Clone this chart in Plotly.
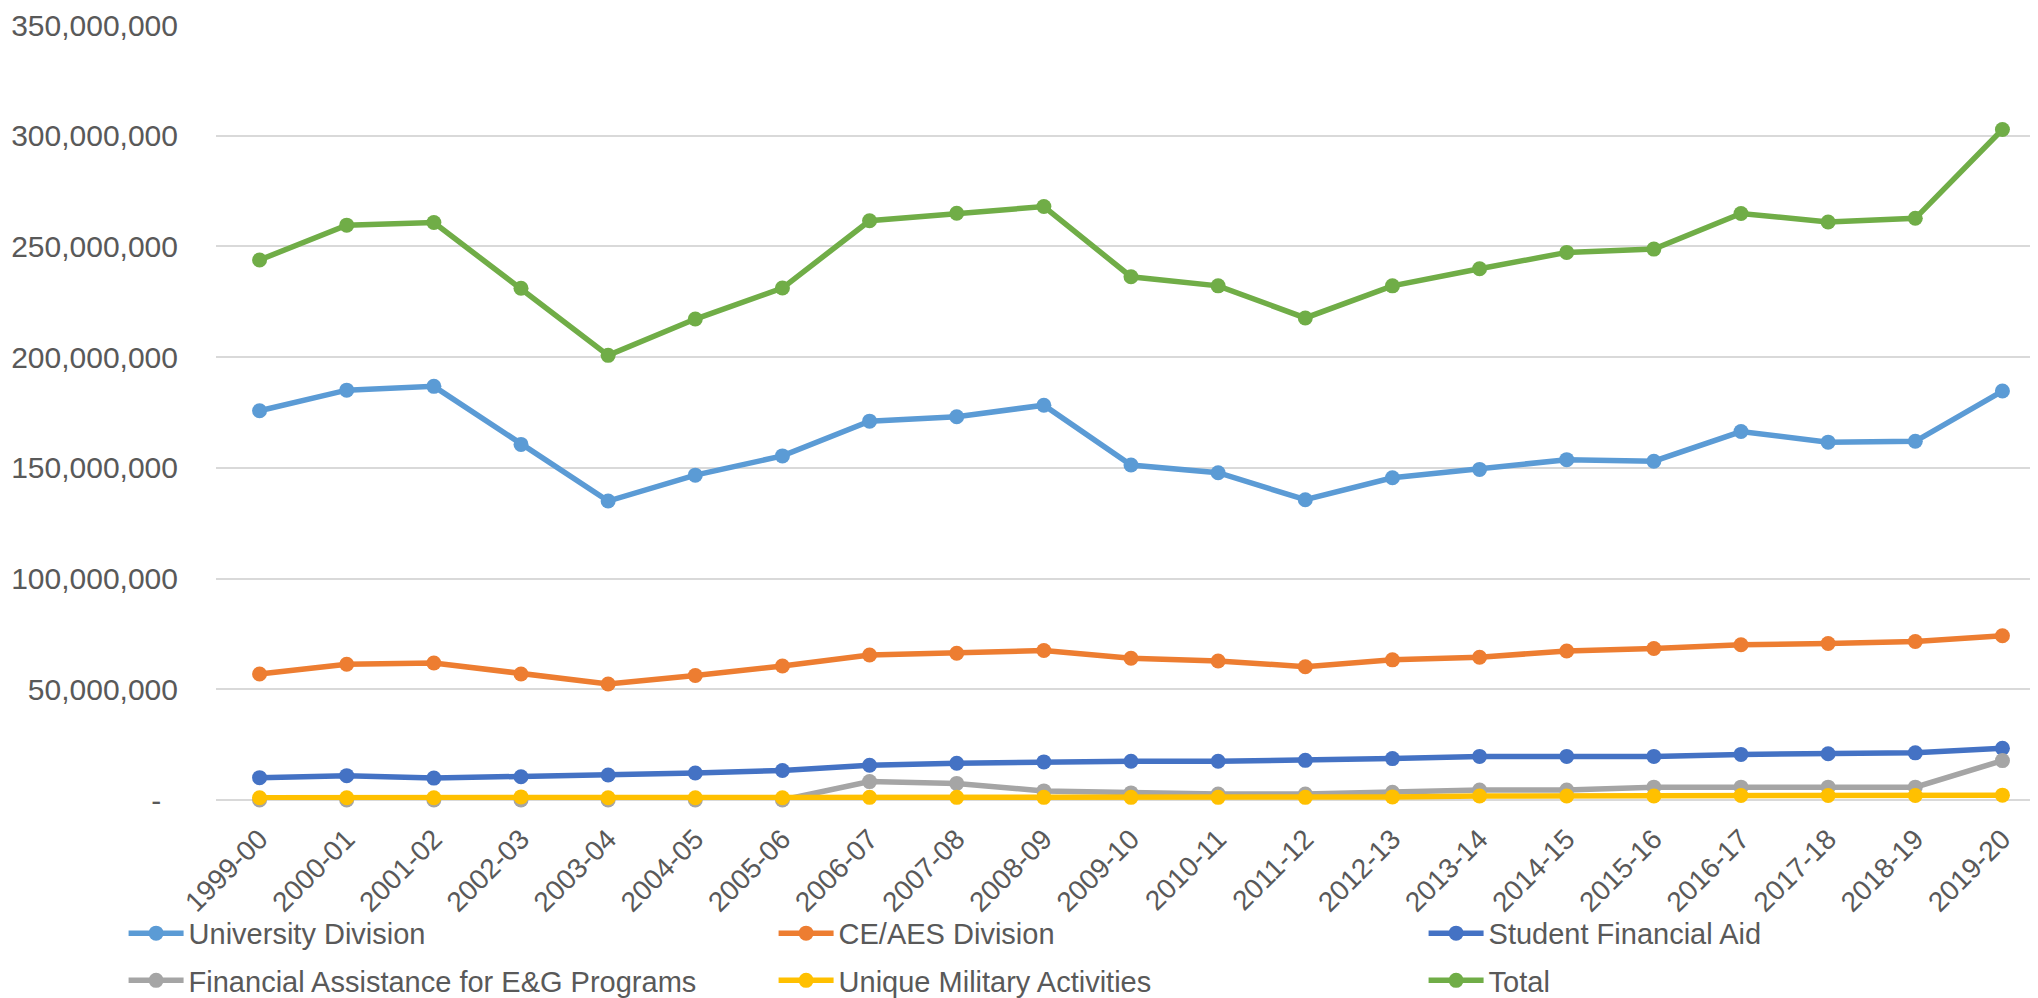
import plotly.graph_objects as go

years = ["1999-00", "2000-01", "2001-02", "2002-03", "2003-04", "2004-05", "2005-06",
         "2006-07", "2007-08", "2008-09", "2009-10", "2010-11", "2011-12", "2012-13",
         "2013-14", "2014-15", "2015-16", "2016-17", "2017-18", "2018-19", "2019-20"]

university = [175.8, 185.1, 186.8, 160.6, 135.0, 146.7, 155.4, 171.1, 173.1, 178.3, 151.3,
              147.8, 135.6, 145.5, 149.3, 153.7, 153.0, 166.4, 161.6, 162.0, 184.7]
ce_aes = [56.9, 61.3, 61.9, 56.9, 52.4, 56.2, 60.5, 65.5, 66.3, 67.5, 64.0,
          62.8, 60.2, 63.3, 64.5, 67.3, 68.4, 70.1, 70.7, 71.6, 74.2]
student_aid = [10.1, 11.0, 9.9, 10.5, 11.3, 12.2, 13.3, 15.7, 16.6, 17.2, 17.5,
               17.5, 17.9, 18.7, 19.7, 19.7, 19.7, 20.6, 20.9, 21.3, 23.4]
fin_assist = [0.0, 0.0, 0.0, 0.0, 0.0, 0.0, 0.0, 8.3, 7.5, 4.1, 3.2,
              2.7, 2.7, 3.5, 4.5, 4.5, 5.8, 5.8, 5.8, 5.8, 17.8]
military = [1.0, 1.0, 1.0, 1.4, 1.0, 1.0, 1.0, 1.2, 1.2, 1.2, 1.2,
            1.2, 1.2, 1.4, 1.8, 1.8, 1.8, 2.0, 2.0, 2.0, 2.2]
total = [243.9, 259.6, 260.8, 231.1, 200.8, 217.2, 231.2, 261.6, 265.0, 268.0, 236.3,
         232.2, 217.7, 232.2, 239.9, 247.3, 248.8, 264.9, 261.0, 262.7, 302.8]

y_ticks = [0, 50, 100, 150, 200, 250, 300, 350]  # millions
y_tick_text = ["-\u00a0\u00a0"] + [f"{v * 1_000_000:,}" for v in y_ticks[1:]]

# name, values, colour, legend row, legend column width
series = [
    ("University Division", university, "#5B9BD5", "legend", 580),
    ("CE/AES Division", ce_aes, "#ED7D31", "legend", 580),
    ("Student Financial Aid", student_aid, "#4472C4", "legend", 360),
    ("Financial Assistance for E&G Programs", fin_assist, "#A5A5A5", "legend2", 580),
    ("Unique Military Activities", military, "#FFC000", "legend2", 580),
    ("Total", total, "#70AD47", "legend2", 360),
]

fig = go.Figure()
for name, vals, color, lg, lw in series:
    fig.add_trace(go.Scatter(
        x=years, y=[v * 1_000_000 for v in vals], name=name, mode="lines+markers",
        line=dict(color=color, width=5.5), marker=dict(color=color, size=15),
        legend=lg, legendwidth=lw, cliponaxis=False,
    ))

FONT = "Liberation Sans, Arial, sans-serif"
GREY = "#595959"

legend_common = dict(
    orientation="h", xanchor="left", yanchor="middle",
    font=dict(family=FONT, size=29, color=GREY),
    itemwidth=55, bgcolor="rgba(0,0,0,0)",
)

fig.update_layout(
    width=2038, height=998,
    margin=dict(l=208, r=0, t=17, b=199),
    paper_bgcolor="white", plot_bgcolor="white",
    font=dict(family=FONT, color=GREY),
    showlegend=True,
    legend=dict(x=-0.0505, y=-0.172, **legend_common),
    legend2=dict(x=-0.0505, y=-0.233, **legend_common),
    xaxis=dict(
        type="category", range=[-0.5, len(years) - 0.5],
        showgrid=False, showline=False, zeroline=False,
        tickangle=-45, tickfont=dict(family=FONT, size=28, color=GREY),
        ticks="", ticklabelstandoff=16,
    ),
    yaxis=dict(
        range=[0, 350_000_000], tickvals=[v * 1_000_000 for v in y_ticks],
        ticktext=y_tick_text, showgrid=True, gridcolor="#D9D9D9", gridwidth=2,
        zeroline=True, zerolinecolor="#D9D9D9", zerolinewidth=2,
        tickfont=dict(family=FONT, size=30, color=GREY), ticks="", ticklabelstandoff=37,
    ),
)

fig.write_html("out.html")
